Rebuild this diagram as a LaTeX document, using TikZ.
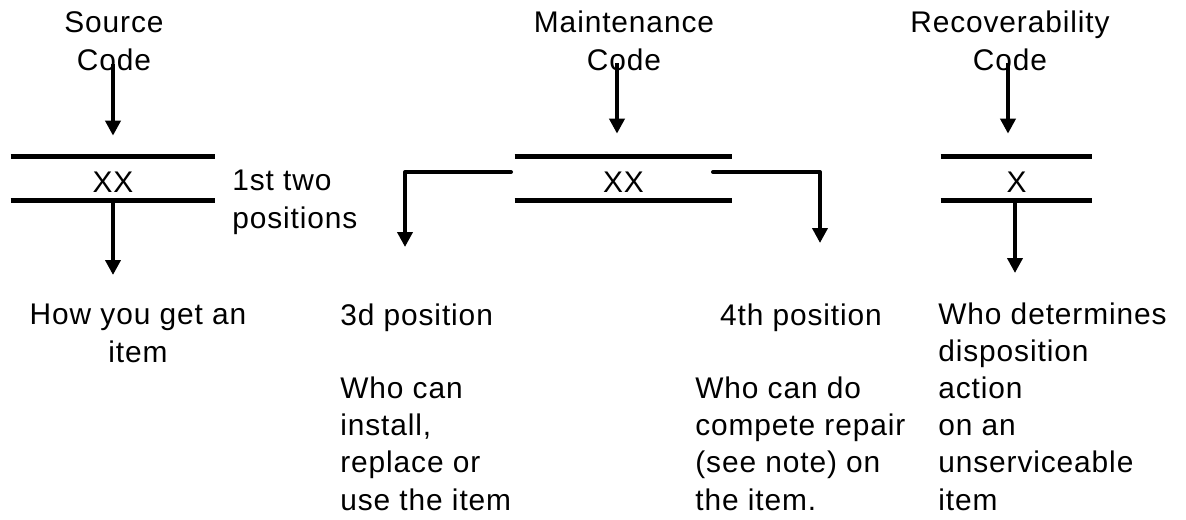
\documentclass[tikz,border=0pt]{standalone}
\usepackage{fontspec}
\setmainfont{Liberation Sans}[LetterSpace=3]
\usetikzlibrary{arrows.meta}

\begin{document}
\begin{tikzpicture}[
    bar/.style={line width=0.106cm},
    arr/.style={line width=0.08cm, -{Triangle[length=0.30cm, width=0.30cm]}},
    brk/.style={line width=0.08cm, line cap=round, line join=round, -{Triangle[length=0.30cm, width=0.30cm]}},
    lbl/.style={font=\fontsize{17}{21.06}\selectfont, inner sep=0pt},
    code/.style={lbl, minimum height=0.86cm, text height=0.55cm}
]
\useasboundingbox (0,0) rectangle (23.72,10.38);

\node[lbl, align=center, anchor=base] (srctitle) at (2.28, 8.98) {Source\\Code};
\node[lbl, align=center, anchor=base] (mnttitle) at (12.48, 8.98) {Maintenance\\Code};
\node[lbl, align=center, anchor=base] (rectitle) at (20.20, 8.98) {Recoverability\\Code};

\node[code, minimum width=4.08cm] (srcxx) at (2.26, 6.81) {XX};
\node[code, minimum width=4.34cm] (mntxx) at (12.47, 6.81) {XX};
\node[code, minimum width=3.02cm] (recxx) at (20.33, 6.81) {X};

\draw[bar] (srcxx.north west) -- (srcxx.north east);
\draw[bar] (srcxx.south west) -- (srcxx.south east);
\draw[bar] (mntxx.north west) -- (mntxx.north east);
\draw[bar] (mntxx.south west) -- (mntxx.south east);
\draw[bar] (recxx.north west) -- (recxx.north east);
\draw[bar] (recxx.south west) -- (recxx.south east);

\coordinate (srcin) at (2.26, 9.10);
\coordinate (srcout) at (2.26, 4.88);
\coordinate (mntin) at (12.34, 9.12);
\coordinate (mntl) at (10.22, 6.94);
\coordinate (mntlout) at (8.10, 5.44);
\coordinate (mntr) at (14.26, 6.94);
\coordinate (mntrout) at (16.40, 5.52);
\coordinate (recin) at (20.16, 9.12);
\coordinate (recout) at (20.30, 4.92);

\draw[arr, shorten >=0.42cm] (srcin) -- (srcin |- srcxx.north);
\draw[arr] (srcxx.south) -- (srcout);
\draw[arr, shorten >=0.46cm] (mntin) -- (mntin |- mntxx.north);
\draw[brk] (mntl) -| (mntlout);
\draw[brk] (mntr) -| (mntrout);
\draw[arr, shorten >=0.46cm] (recin) -- (recin |- recxx.north);
\draw[arr] (recout |- recxx.south) -- (recout);

\node[lbl, align=left, anchor=base west] (pos1) at (4.64, 5.82) {1st two\\positions};
\node[lbl, align=center, anchor=base] (srcnote) at (2.76, 3.14) {How you get an\\item};
\node[lbl, anchor=base west] (pos3) at (6.80, 3.88) {3d position};
\node[lbl, align=left, anchor=base west] (pos3txt) at (6.80, 0.18) {Who can\\install,\\replace or\\use the item};
\node[lbl, anchor=base] (pos4) at (16.02, 3.88) {4th position};
\node[lbl, align=left, anchor=base west] (pos4txt) at (13.90, 0.18) {Who can do\\compete repair\\(see note) on\\the item.};
\node[lbl, align=left, anchor=base west] (recnote) at (18.76, 0.18) {Who determines\\disposition\\action\\on an\\unserviceable\\item};

\end{tikzpicture}
\end{document}
